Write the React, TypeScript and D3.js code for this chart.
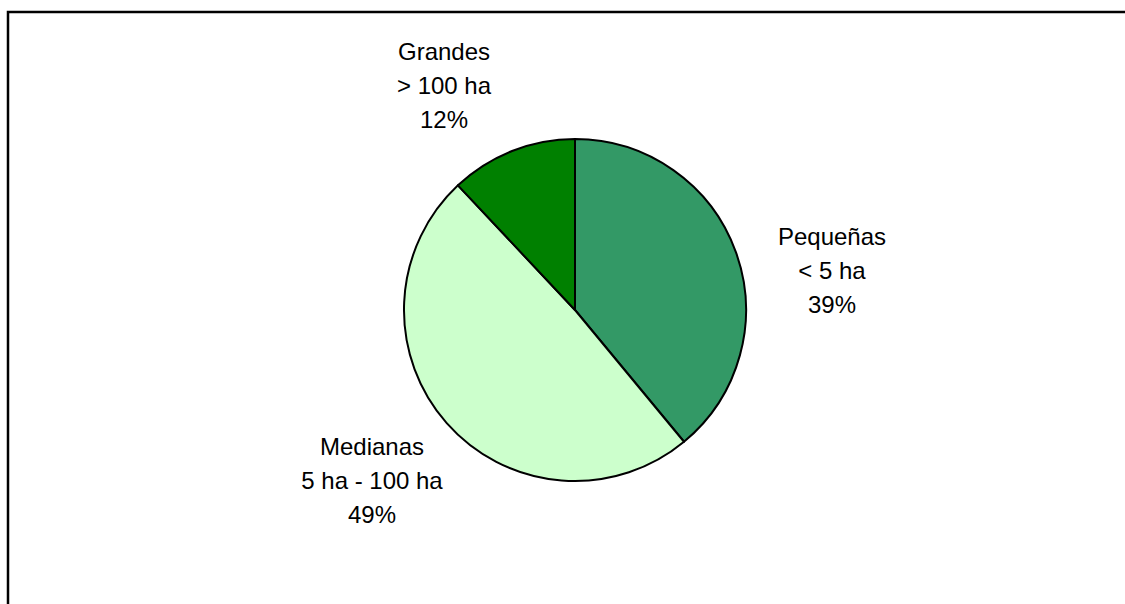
import React from "react";
import * as d3 from "d3";

const categories = ["Pequeñas", "Medianas", "Grandes"];
const ranges = ["< 5 ha", "5 ha - 100 ha", "> 100 ha"];
const values = [39, 49, 12];
const colors = ["#339966", "#CCFFCC", "#008000"];
const labelPos: [number, number][] = [
  [832, 245],
  [372, 455],
  [444, 60],
];

export default function App() {
  const W = 1125;
  const H = 604;
  const cx = 575;
  const cy = 310;
  const r = 171;
  const pie = d3.pie<number>().sort(null).value((d) => d)(values);
  const arc = d3.arc<d3.PieArcDatum<number>>().innerRadius(0).outerRadius(r);
  const lineH = 34;
  return (
    <svg
      width={W}
      height={H}
      style={{ position: "absolute", left: 0, top: 0, background: "#fff" }}
      fontFamily="'Liberation Sans', Arial, sans-serif"
    >
      <rect x={0} y={0} width={W} height={H} fill="#fff" />
      <path d={`M8,${H + 10} L8,12 L${W + 10},12`} fill="none" stroke="#000" strokeWidth={2.5} />
      <g transform={`translate(${cx},${cy})`}>
        {pie.map((p, i) => (
          <path key={i} d={arc(p) || ""} fill={colors[i]} stroke="#000" strokeWidth={2} strokeLinejoin="round" />
        ))}
      </g>
      {categories.map((c, i) => {
        const [x, y] = labelPos[i];
        return (
          <text key={c} x={x} y={y} textAnchor="middle" fontSize={24} fill="#000">
            <tspan x={x} y={y}>{c}</tspan>
            <tspan x={x} y={y + lineH}>{ranges[i]}</tspan>
            <tspan x={x} y={y + 2 * lineH}>{values[i]}%</tspan>
          </text>
        );
      })}
    </svg>
  );
}
